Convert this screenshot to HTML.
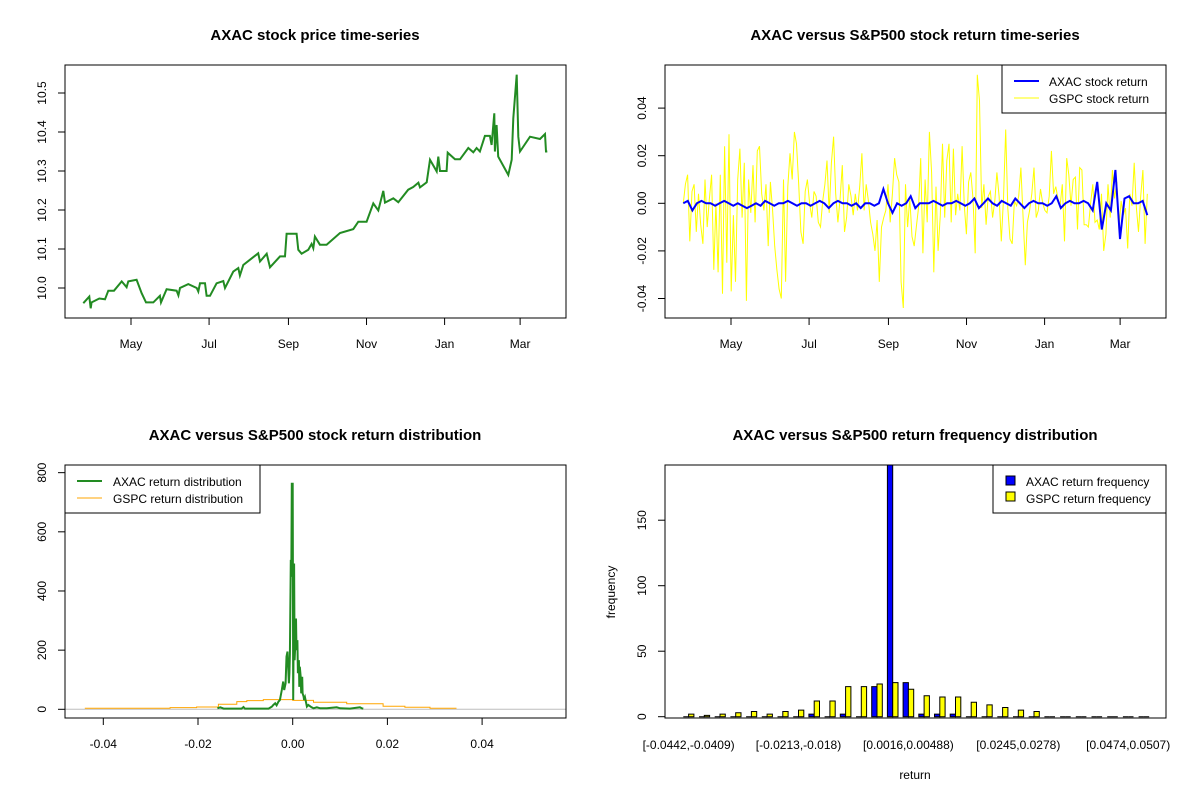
<!DOCTYPE html>
<html><head><meta charset="utf-8"><style>
body{margin:0;background:#fff;}
svg{display:block;font-family:"Liberation Sans",Arial,sans-serif;}
</style></head><body>
<svg id="fig" width="1200" height="800" viewBox="0 0 1200 800" xmlns="http://www.w3.org/2000/svg"></svg>
<script>
// ---- Panel 1 data: AXAC price (day offset from May 1, price) ----
const priceDays = [-37.3,-32.6,-31.5,-30.8,-24.8,-20.3,-17.7,-13.3,-7.3,-3.4,-2.1,4.4,8.3,11.7,17.4,22.6,23.4,27.8,35.6,37.0,38.3,44.8,51.3,52.6,53.9,57.8,59.1,61.7,66.9,72.1,73.4,79.9,83.8,85.1,87.7,95.5,99.4,100.8,106.0,108.6,116.4,120.3,121.6,129.4,130.7,133.3,138.5,141.1,142.4,143.7,147.6,152.8,163.3,173.7,177.6,184.1,189.3,193.2,197.1,198.4,204.9,208.8,216.6,220.5,224.5,225.8,231.0,233.6,238.8,240.1,241.4,246.6,247.4,253.1,257.0,263.5,267.4,270.0,272.6,276.5,280.4,281.7,283.8,284.3,285.6,286.9,294.8,297.4,298.7,301.3,302.6,303.9,311.7,319.5,323.4,324.2,325.2];
const priceVals = [9.961,9.978,9.948,9.963,9.973,9.971,9.993,9.993,10.017,10.002,10.017,10.021,9.987,9.963,9.963,9.980,9.963,9.997,9.993,9.981,10.000,10.010,10.000,9.991,10.012,10.012,9.980,9.980,10.012,10.018,10.000,10.042,10.051,10.032,10.059,10.079,10.089,10.068,10.088,10.053,10.081,10.081,10.139,10.139,10.098,10.088,10.098,10.113,10.102,10.132,10.111,10.111,10.141,10.151,10.170,10.170,10.217,10.199,10.249,10.219,10.230,10.220,10.252,10.259,10.270,10.258,10.271,10.329,10.299,10.337,10.300,10.300,10.347,10.330,10.330,10.359,10.348,10.359,10.350,10.390,10.390,10.367,10.448,10.350,10.418,10.337,10.290,10.329,10.435,10.547,10.388,10.350,10.388,10.382,10.395,10.350,10.350];
const monthLabels = ["May","Jul","Sep","Nov","Jan","Mar"];
const monthDays = [0,61,123,184,245,304];
const priceTicks = [10.0,10.1,10.2,10.3,10.4,10.5];
const priceTickLabels = ["10.0","10.1","10.2","10.3","10.4","10.5"];

// ---- Panel 2 data: returns ----
const gspcReturns = [0.000,0.008,0.012,-0.016,0.005,0.008,-0.012,0.004,-0.009,-0.017,0.010,-0.010,0.002,0.012,-0.028,0.000,-0.029,0.012,-0.038,0.024,-0.025,0.029,-0.037,-0.005,-0.033,0.010,0.023,-0.006,0.017,-0.041,0.010,-0.004,0.016,-0.008,0.022,0.024,0.004,-0.003,0.008,-0.018,0.009,-0.003,-0.018,-0.028,-0.036,-0.040,0.010,-0.033,0.007,0.021,0.010,0.030,0.025,0.008,-0.012,-0.017,0.005,0.010,0.000,-0.006,0.005,0.003,-0.008,-0.010,0.001,0.008,0.018,-0.004,0.017,0.028,0.004,-0.008,0.002,0.016,-0.012,-0.006,0.008,0.003,-0.005,0.004,-0.003,0.007,0.021,-0.003,0.008,0.001,-0.008,-0.013,-0.020,-0.007,-0.033,-0.010,-0.006,-0.003,0.008,-0.008,0.004,0.019,0.012,0.009,-0.033,-0.044,0.008,-0.010,0.002,-0.014,-0.018,-0.010,-0.002,0.019,-0.021,0.010,-0.008,0.030,0.013,-0.029,0.007,-0.020,-0.005,0.025,-0.006,0.018,0.025,-0.008,0.023,-0.005,0.004,-0.003,0.024,-0.001,-0.013,0.009,0.013,0.002,-0.021,0.054,0.043,-0.002,0.008,-0.009,0.003,0.005,-0.006,0.001,0.013,0.003,-0.016,0.002,0.031,-0.002,-0.015,-0.017,0.001,-0.001,0.003,0.015,-0.006,-0.026,-0.008,-0.003,0.004,0.015,-0.006,-0.003,0.006,0.000,-0.003,-0.004,0.003,0.022,0.004,0.007,0.002,-0.001,0.008,-0.016,0.019,0.012,-0.001,0.010,0.011,-0.011,0.015,0.014,-0.009,-0.009,-0.010,0.000,0.008,-0.008,-0.007,-0.011,0.004,-0.020,-0.013,0.008,-0.006,0.014,0.002,0.009,-0.011,0.001,-0.005,-0.002,-0.019,0.004,-0.001,0.017,-0.002,-0.012,0.003,0.014,-0.017,0.004];
const axacReturns = [0.000,0.001,-0.003,0.000,0.001,0.000,0.000,-0.001,0.000,0.001,0.000,-0.001,0.000,-0.001,-0.002,-0.001,0.000,-0.001,0.001,0.000,-0.001,0.000,0.000,0.001,0.000,-0.001,0.000,0.000,-0.001,0.000,0.001,0.000,-0.002,0.000,0.001,0.000,0.000,-0.001,0.000,-0.002,0.000,0.000,-0.001,0.000,0.006,0.000,-0.004,0.000,-0.001,0.000,0.003,-0.002,0.000,0.000,0.000,0.001,0.000,-0.001,0.000,0.000,0.001,0.000,-0.001,0.000,0.002,-0.002,0.000,0.002,0.000,-0.001,0.001,0.000,-0.001,0.002,0.000,-0.002,0.000,0.001,0.000,0.000,-0.001,0.000,0.003,-0.002,0.000,0.001,0.000,0.000,0.001,0.000,-0.003,0.009,-0.011,0.000,-0.003,0.014,-0.015,0.002,0.003,0.000,0.000,0.001,-0.005];
const retTicks = [-0.04,-0.02,0.00,0.02,0.04];
const retTickLabels = ["-0.04","-0.02","0.00","0.02","0.04"];

// ---- Panel 3 data: densities ----
const axacDensX = [-0.0159,-0.0153,-0.0146,-0.0108,-0.0104,-0.0101,-0.0051,-0.0044,-0.0041,-0.0037,-0.0034,-0.0030,-0.0027,-0.0023,-0.0020,-0.0018,-0.0015,-0.0013,-0.0011,-0.0008,-0.0007,-0.0006,-0.0004,-0.0003,-0.0002,-0.0001,0.0000,0.0001,0.0003,0.0004,0.0006,0.0007,0.0008,0.0010,0.0011,0.0013,0.0014,0.0015,0.0017,0.0018,0.0020,0.0021,0.0023,0.0024,0.0026,0.0030,0.0033,0.0040,0.0044,0.0051,0.0058,0.0072,0.0093,0.0100,0.0121,0.0142,0.0146,0.0149];
const axacDensY = [3.4,6.8,2.3,2.3,7.9,2.3,2.3,9,14.6,20.3,13.5,25.9,31.5,65.4,93.5,65.4,88,178,195,88,122,187.6,505,448,766,505,766,31.5,493,166,234,307,200,234,122,166,76,144,110,54,110,54,43,31.5,40.6,9,14.6,6.8,3.4,6.8,3.4,3.4,6.8,3.4,2.3,6.8,3.4,2.3];
const gspcDensX = [-0.0439,-0.0259,-0.0203,-0.0157,-0.0118,-0.0097,-0.0062,0.0000,0.0044,0.0114,0.0191,0.0237,0.0290,0.0346];
const gspcDensY = [3.4,5.6,7.9,16.9,25.9,29.3,32.7,30,23.7,19,10,6.8,3.4,3.4];
const densXTicks = [-0.04,-0.02,0.00,0.02,0.04];
const densXLabels = ["-0.04","-0.02","0.00","0.02","0.04"];
const densYTicks = [0,200,400,600,800];

// ---- Panel 4 data: histogram ----
const binLabels = ["[-0.0442,-0.0409)","","","","","","","[-0.0213,-0.018)","","","","","","","[0.0016,0.00488)","","","","","","","[0.0245,0.0278)","","","","","","","[0.0474,0.0507)",""];
const axacFreq = [0,0,0,0,0,0,0,0,2,0,2,0,23,250,26,2,2,2,0,0,0,0,0,0,0,0,0,0,0,0];
const gspcFreq = [2,1,2,3,4,2,4,5,12,12,23,23,25,26,21,16,15,15,11,9,7,5,4,0,0,0,0,0,0,0];
const freqTicks = [0,50,100,150];

const NS="http://www.w3.org/2000/svg";
const svg=document.getElementById('fig');
function mk(tag,attrs,parent){const e=document.createElementNS(NS,tag);for(const k in attrs)e.setAttribute(k,attrs[k]);(parent||svg).appendChild(e);return e;}
function txt(s,x,y,size,opts,parent){opts=opts||{};const a={x:x,y:y,'font-size':size,'text-anchor':opts.anchor||'middle',fill:'#000'};if(opts.bold)a['font-weight']='bold';if(opts.rot)a.transform='rotate(-90 '+x+' '+y+')';const t=mk('text',a,parent);t.textContent=s;return t;}

// ===== Panel 1 =====
const p1={l:65,r:566,t:65,b:318};
const x1=d=>131+d*1.28;
const y1=p=>288-(p-10)*390;
let g=mk('g',{});


let t=txt('AXAC stock price time-series',315,40,15,{bold:true},g);


let r=mk('rect',{x:p1.l,y:p1.t,width:p1.r-p1.l,height:p1.b-p1.t,fill:'none',stroke:'#000','stroke-width':1},g);


monthDays.forEach((d,i)=>{const x=x1(d);mk('line',{x1:x,x2:x,y1:p1.b,y2:p1.b+7,stroke:'#000'},g);const l=txt(monthLabels[i],x,348,12,{},g);});
priceTicks.forEach((v,i)=>{const y=y1(v);mk('line',{x1:p1.l-7,x2:p1.l,y1:y,y2:y,stroke:'#000'},g);const l=txt(priceTickLabels[i],46,y,12,{rot:true},g);});
let pts=priceDays.map((d,i)=>x1(d).toFixed(1)+','+y1(priceVals[i]).toFixed(1)).join(' ');
let pl=mk('polyline',{points:pts,fill:'none',stroke:'#228B22','stroke-width':2},g);



// ===== Panel 2 =====
const p2={l:665,r:1166,t:65,b:318};
const x2=d=>731+d*1.28;
const y2=v=>203.3-v*2380;
g=mk('g',{});


t=txt('AXAC versus S&P500 stock return time-series',915,40,15,{bold:true},g);


const cp2=mk('clipPath',{id:'cp2'},g);mk('rect',{x:p2.l,y:p2.t,width:p2.r-p2.l,height:p2.b-p2.t},cp2);
monthDays.forEach((d,i)=>{const x=x2(d);mk('line',{x1:x,x2:x,y1:p2.b,y2:p2.b+7,stroke:'#000'},g);const l=txt(monthLabels[i],x,348,12,{},g);});
retTicks.forEach((v,i)=>{const y=y2(v);mk('line',{x1:p2.l-7,x2:p2.l,y1:y,y2:y,stroke:'#000'},g);const l=txt(retTickLabels[i],646,y,12,{rot:true},g);});
const d0=-37.3,d1=325.2;
pts=gspcReturns.map((v,i)=>x2(d0+(d1-d0)*i/(gspcReturns.length-1)).toFixed(1)+','+y2(v).toFixed(1)).join(' ');
pl=mk('polyline',{points:pts,fill:'none',stroke:'#FFFF00','stroke-width':1,'clip-path':'url(#cp2)'},g);


pts=axacReturns.map((v,i)=>x2(d0+(d1-d0)*i/(axacReturns.length-1)).toFixed(1)+','+y2(v).toFixed(1)).join(' ');
pl=mk('polyline',{points:pts,fill:'none',stroke:'#0000FF','stroke-width':2,'clip-path':'url(#cp2)'},g);


r=mk('rect',{x:p2.l,y:p2.t,width:p2.r-p2.l,height:p2.b-p2.t,fill:'none',stroke:'#000'},g);


let lg=mk('g',{},g);


mk('rect',{x:1002,y:65,width:164,height:48,fill:'#fff',stroke:'#000'},lg);
mk('line',{x1:1014,x2:1039,y1:81,y2:81,stroke:'#0000FF','stroke-width':2},lg);
mk('line',{x1:1014,x2:1039,y1:98,y2:98,stroke:'#FFFF00','stroke-width':1},lg);
txt('AXAC stock return',1049,86,12,{anchor:'start'},lg);
txt('GSPC stock return',1049,103,12,{anchor:'start'},lg);

// ===== Panel 3 =====
const p3={l:65,r:566,t:465,b:718};
const x3=v=>292.7+v*4735;
const y3=v=>709.3-v*0.2958;
g=mk('g',{});


t=txt('AXAC versus S&P500 stock return distribution',315,440,15,{bold:true},g);


densXTicks.forEach((v,i)=>{const x=x3(v);mk('line',{x1:x,x2:x,y1:p3.b,y2:p3.b+7,stroke:'#000'},g);const l=txt(densXLabels[i],x,748,12,{},g);});
densYTicks.forEach(v=>{const y=y3(v);mk('line',{x1:p3.l-7,x2:p3.l,y1:y,y2:y,stroke:'#000'},g);const l=txt(String(v),46,y,12,{rot:true},g);});
let zl=mk('line',{x1:p3.l,x2:p3.r,y1:y3(0),y2:y3(0),stroke:'#BEBEBE'},g);


let sp=[];gspcDensX.forEach((x,i)=>{if(i>0)sp.push(x3(x).toFixed(1)+','+y3(gspcDensY[i-1]).toFixed(1));sp.push(x3(x).toFixed(1)+','+y3(gspcDensY[i]).toFixed(1));});
pl=mk('polyline',{points:sp.join(' '),fill:'none',stroke:'#FFA500','stroke-width':1},g);


pts=axacDensX.map((x,i)=>x3(x).toFixed(1)+','+y3(axacDensY[i]).toFixed(1)).join(' ');
pl=mk('polyline',{points:pts,fill:'none',stroke:'#228B22','stroke-width':2},g);


r=mk('rect',{x:p3.l,y:p3.t,width:p3.r-p3.l,height:p3.b-p3.t,fill:'none',stroke:'#000'},g);


lg=mk('g',{},g);


mk('rect',{x:65,y:465,width:195,height:48,fill:'#fff',stroke:'#000'},lg);
mk('line',{x1:77,x2:102,y1:481,y2:481,stroke:'#228B22','stroke-width':2},lg);
mk('line',{x1:77,x2:102,y1:498,y2:498,stroke:'#FFA500','stroke-width':1},lg);
txt('AXAC return distribution',113,486,12,{anchor:'start'},lg);
txt('GSPC return distribution',113,503,12,{anchor:'start'},lg);

// ===== Panel 4 =====
const p4={l:665,r:1166,t:465,b:718};
const barW=5.3, groupStep=15.7, start4=683.3;
const y4=v=>716.7-v*1.31;
g=mk('g',{});


t=txt('AXAC versus S&P500 return frequency distribution',915,440,15,{bold:true},g);


const cp4=mk('clipPath',{id:'cp4'},g);mk('rect',{x:p4.l,y:p4.t,width:p4.r-p4.l,height:p4.b-p4.t},cp4);
freqTicks.forEach(v=>{const y=y4(v);mk('line',{x1:p4.l-7,x2:p4.l,y1:y,y2:y,stroke:'#000'},g);const l=txt(String(v),646,y,12,{rot:true},g);});
const bars=mk('g',{'clip-path':'url(#cp4)'},g);
function barPath(x,v){const y0=y4(0),y=y4(v);return 'M'+x+','+y0+' L'+x+','+y+' L'+(x+barW)+','+y+' L'+(x+barW)+','+y0+' Z';}
axacFreq.forEach((v,i)=>{const x=start4+i*groupStep;
  const b1=mk('path',{d:barPath(x,v),fill:'#0000FF',stroke:'#000','stroke-width':1},bars);
  
  
  const gv=gspcFreq[i];
  const b2=mk('path',{d:barPath(x+barW,gv),fill:'#FFFF00',stroke:'#000','stroke-width':1},bars);
  
  
  if(binLabels[i]){const l=txt(binLabels[i],x+barW,749,12,{},g);}
});
r=mk('rect',{x:p4.l,y:p4.t,width:p4.r-p4.l,height:p4.b-p4.t,fill:'none',stroke:'#000'},g);


t=txt('frequency',615,592,12,{rot:true},g);


t=txt('return',915,779,12,{},g);


lg=mk('g',{},g);


mk('rect',{x:993,y:465,width:173,height:48,fill:'#fff',stroke:'#000'},lg);
mk('rect',{x:1006,y:476,width:9,height:9,fill:'#0000FF',stroke:'#000'},lg);
mk('rect',{x:1006,y:492,width:9,height:9,fill:'#FFFF00',stroke:'#000'},lg);
txt('AXAC return frequency',1026,486,12,{anchor:'start'},lg);
txt('GSPC return frequency',1026,503,12,{anchor:'start'},lg);
</script>
</body></html>
